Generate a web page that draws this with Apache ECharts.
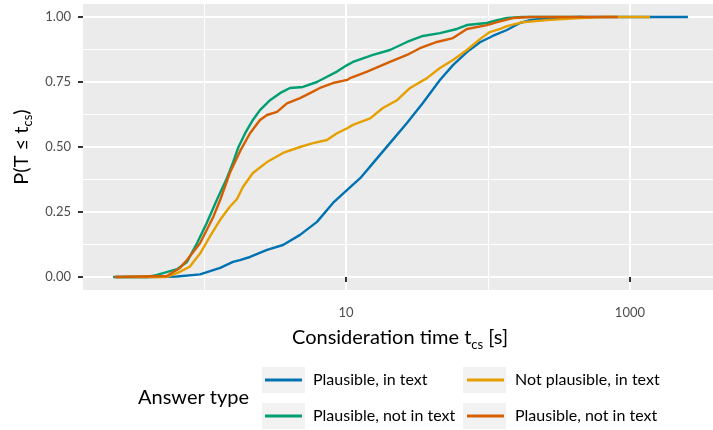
<!DOCTYPE html>
<html>
<head>
<meta charset="utf-8">
<script src="https://cdn.jsdelivr.net/npm/echarts@6/dist/echarts.min.js"></script>
<style>
html,body{margin:0;padding:0;background:#fff;}
#chart{width:713px;height:430px;}
</style>
</head>
<body>
<div id="chart"></div>
<script>
// ---- data: [consideration time (s), cumulative probability] ----
const plausibleInText = [
  [0.24,0],[0.417,0],[0.646,0.002],[0.938,0.01],[1.30,0.035],[1.60,0.058],[1.79,0.065],
  [2.11,0.077],[2.78,0.104],[3.60,0.123],[4.75,0.162],[6.25,0.212],[8.10,0.285],[10.2,0.335],
  [12.6,0.38],[15.5,0.438],[20.4,0.515],[26.9,0.592],[34.8,0.669],[45.9,0.758],[56.7,0.815],
  [71.1,0.865],[87.9,0.903],[108,0.927],[136,0.95],[168,0.977],[198,0.988],[270,0.996],
  [445,1.0],[2560,1.0]
];
const plausibleNotInText = [
  [0.229,0],[0.40,0],[0.467,0.008],[0.646,0.03],[0.759,0.058],[0.893,0.13],[1.05,0.21],
  [1.24,0.30],[1.45,0.38],[1.60,0.44],[1.75,0.50],[1.95,0.553],[2.21,0.604],[2.48,0.642],
  [2.92,0.68],[3.43,0.707],[4.03,0.727],[4.98,0.731],[6.25,0.75],[7.35,0.77],[8.64,0.79],
  [10.2,0.815],[11.2,0.827],[15.5,0.854],[20.4,0.873],[26.9,0.904],[34.8,0.927],[45.9,0.938],
  [60.5,0.954],[71.1,0.969],[98.5,0.977],[116,0.988],[136,0.996],[176,1.0],[467,1.0]
];
const notPlausibleInText = [
  [0.24,0],[0.548,0],[0.678,0.02],[0.796,0.04],[0.938,0.09],[1.10,0.155],[1.30,0.22],
  [1.52,0.27],[1.71,0.30],[1.88,0.346],[2.21,0.40],[2.78,0.442],[3.60,0.477],[4.75,0.50],
  [5.86,0.515],[7.35,0.527],[8.64,0.553],[10.2,0.572],[11.2,0.585],[14.8,0.61],[18.2,0.65],
  [22.9,0.68],[28.3,0.727],[37.2,0.765],[45.9,0.804],[56.7,0.835],[71.1,0.873],[87.9,0.915],
  [103,0.942],[122,0.954],[136,0.965],[176,0.98],[260,0.988],[337,0.992],[445,0.996],
  [646,1.0],[1384,1.0]
];
const plausibleNotInText2 = [
  [0.235,0],[0.548,0.004],[0.678,0.035],[0.759,0.065],[0.938,0.13],[1.16,0.23],[1.30,0.296],
  [1.52,0.40],[1.82,0.49],[2.11,0.553],[2.48,0.604],[2.78,0.623],[3.27,0.635],[3.84,0.668],
  [4.75,0.688],[5.58,0.707],[6.56,0.727],[8.10,0.746],[10.2,0.758],[10.7,0.765],[14.1,0.79],
  [20.4,0.827],[26.9,0.854],[33.2,0.88],[43.7,0.904],[56.7,0.919],[71.1,0.954],[98.5,0.969],
  [116,0.98],[150,0.996],[198,1.0],[823,1.0]
];

const answerTypes = ['Plausible, in text','Plausible, not in text','Not plausible, in text','Plausible, not in text'];
const seriesData = [plausibleInText, plausibleNotInText, notPlausibleInText, plausibleNotInText2];
const colors = ['#0072B2','#009E73','#E69F00','#D55E00'];

const xMajorTicks = [10, 1000];
const xMinorTicks = [1, 100];
const yMajorTicks = [0, 0.25, 0.5, 0.75, 1];
const yMinorTicks = [0.125, 0.375, 0.625, 0.875];

const FONT = 'Lato';
// unique internal names (legend shows the plain label)
const seriesNames = answerTypes.map((t, i) => t + '\u200b'.repeat(i));

const chart = echarts.init(document.getElementById('chart'), null, {renderer: 'canvas'});

const X_MIN = 0.1406, X_MAX = 3846;

const legendPos = [
  {left: 265, top: 371}, {left: 265, top: 407}, {left: 467, top: 371}, {left: 467, top: 407}
];
const keyBoxes = [
  [262, 367], [262, 403], [463, 367], [463, 403]
];

const option = {
  animation: false,
  backgroundColor: '#ffffff',
  grid: {left: 83, right: 0, top: 4, bottom: 140, show: true, backgroundColor: '#EBEBEB', borderWidth: 0, containLabel: false},
  xAxis: [
    {
      type: 'log', logBase: 10, min: X_MIN, max: X_MAX,
      axisLine: {show: false},
      axisTick: {show: true, length: 5, lineStyle: {color: '#333333', width: 2}, customValues: xMajorTicks},
      axisLabel: {customValues: xMajorTicks, margin: 16, color: '#4D4D4D', fontSize: 13, fontFamily: FONT,
        formatter: v => String(Math.round(v))},
      splitLine: {show: true, lineStyle: {color: '#ffffff', width: 2}},
      name: '{n|Consideration time t}{s|cs}{n| [s]}',
      nameLocation: 'middle', nameGap: 36,
      nameTextStyle: {
        padding: [0, 0, 0, 4],
        rich: {
          n: {fontSize: 20, fontFamily: FONT, color: '#000', lineHeight: 22, verticalAlign: 'bottom'},
          s: {fontSize: 13, fontFamily: FONT, color: '#000', lineHeight: 22, verticalAlign: 'bottom', padding: [0,0,-3,0]}
        }
      }
    },
    {
      type: 'log', logBase: 10, min: X_MIN, max: X_MAX, position: 'bottom',
      axisLine: {show: false},
      axisTick: {show: false, customValues: xMinorTicks},
      axisLabel: {show: false, customValues: xMinorTicks},
      splitLine: {show: true, lineStyle: {color: '#ffffff', width: 1}}
    }
  ],
  yAxis: [
    {
      type: 'value', min: -0.05, max: 1.05,
      axisLine: {show: false},
      axisTick: {show: true, length: 5, lineStyle: {color: '#333333', width: 2}, customValues: yMajorTicks},
      axisLabel: {customValues: yMajorTicks, margin: 12, color: '#4D4D4D', fontSize: 13, fontFamily: FONT,
        formatter: v => v.toFixed(2)},
      splitLine: {show: true, lineStyle: {color: '#ffffff', width: 2}},
      name: '{n|P(T ≤ t}{s|cs}{n|)}',
      nameLocation: 'middle', nameGap: 49, nameRotate: 90,
      nameTextStyle: {
        rich: {
          n: {fontSize: 20, fontFamily: FONT, color: '#000', lineHeight: 22, verticalAlign: 'bottom'},
          s: {fontSize: 13, fontFamily: FONT, color: '#000', lineHeight: 22, verticalAlign: 'bottom', padding: [0,0,-3,0]}
        }
      }
    },
    {
      type: 'value', min: -0.05, max: 1.05,
      axisLine: {show: false},
      axisTick: {show: false, customValues: yMinorTicks},
      axisLabel: {show: false, customValues: yMinorTicks},
      splitLine: {show: true, lineStyle: {color: '#ffffff', width: 1}}
    }
  ],
  legend: answerTypes.map((t, i) => ({
    data: [{name: seriesNames[i], icon: 'rect'}],
    left: legendPos[i].left, top: legendPos[i].top,
    padding: 0, itemWidth: 37, itemHeight: 3, selectedMode: false,
    formatter: n => n.replace(/\u200b/g, ''),
    textStyle: {fontFamily: FONT, fontSize: 16, color: '#000', lineHeight: 18, padding: [0,0,0,6]}
  })),
  graphic: [
    ...keyBoxes.map(([x, y]) => ({type: 'rect', left: x, top: y, z: -1,
      shape: {width: 43, height: 26}, style: {fill: '#F2F2F2'}})),
    {type: 'text', left: 138, top: 388, style: {text: 'Answer type', font: '20px ' + FONT, fill: '#000'}}
  ],
  series: seriesData.map((d, i) => ({
    name: seriesNames[i], type: 'line', data: d, xAxisIndex: 0, yAxisIndex: 0,
    showSymbol: false, symbol: 'none', color: colors[i],
    lineStyle: {color: colors[i], width: 2.4}, z: 3 + i
  }))
};
chart.setOption(option);
</script>
</body>
</html>
